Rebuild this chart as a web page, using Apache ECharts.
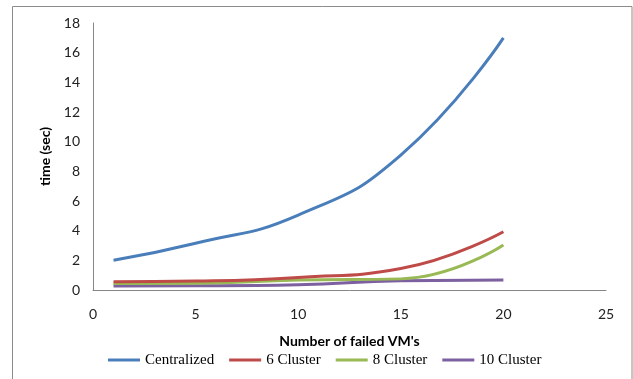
<!DOCTYPE html>
<html>
<head>
<meta charset="utf-8">
<script src="https://cdn.jsdelivr.net/npm/echarts@6/dist/echarts.min.js"></script>
<style>
html,body{margin:0;padding:0;background:#fff;}
#chart{width:633px;height:379px;}
</style>
</head>
<body>
<div id="chart"></div>
<script>
// Data
const xValues = [1, 5, 10, 15, 20];
const centralized = [2.0, 3.15, 5.05, 9.1, 17.0];
const cluster6 = [0.55, 0.6, 0.85, 1.45, 3.93];
const cluster8 = [0.43, 0.45, 0.67, 0.75, 3.03];
const cluster10 = [0.27, 0.28, 0.35, 0.63, 0.67];
const seriesNames = ['Centralized', '6 Cluster', '8 Cluster', '10 Cluster'];
const seriesColors = ['#4A7EBB', '#BE4B48', '#98B954', '#7D60A0'];
const xAxisTitle = "Number of failed VM's";
const yAxisTitle = 'time (sec)';

const allData = [centralized, cluster6, cluster8, cluster10];
const chart = echarts.init(document.getElementById('chart'), null, {renderer: 'canvas'});
const tickFont = {fontFamily: 'Lato', fontSize: 14, color: '#222'};

chart.setOption({
  animation: false,
  backgroundColor: '#fff',
  graphic: [{
    type: 'rect',
    shape: {x: 12.5, y: 6.5, width: 619.5, height: 400},
    style: {fill: 'none', stroke: '#8c8c8c', lineWidth: 1},
    silent: true
  }],
  grid: {left: 93, right: 27, top: 23, bottom: 89},
  legend: {
    data: seriesNames,
    icon: 'rect',
    left: 108,
    top: 352,
    padding: 0,
    itemWidth: 32,
    itemHeight: 3,
    itemGap: 15,
    textStyle: {fontFamily: 'Liberation Serif', fontSize: 15, color: '#000', lineHeight: 16}
  },
  xAxis: {
    type: 'value',
    min: 0, max: 25, interval: 5,
    name: xAxisTitle,
    nameLocation: 'middle',
    nameGap: 44,
    nameTextStyle: {fontFamily: 'Lato', fontSize: 14, fontWeight: 'bold', color: '#000'},
    axisLine: {show: true, lineStyle: {color: '#868686', width: 1}},
    axisTick: {show: false},
    splitLine: {show: false},
    axisLabel: Object.assign({margin: 17}, tickFont)
  },
  yAxis: {
    type: 'value',
    min: 0, max: 18, interval: 2,
    name: yAxisTitle,
    nameLocation: 'middle',
    nameGap: 30,
    nameTextStyle: {fontFamily: 'Lato', fontSize: 14, fontWeight: 'bold', color: '#000'},
    axisLine: {show: true, lineStyle: {color: '#868686', width: 1}},
    axisTick: {show: false},
    splitLine: {show: false},
    axisLabel: Object.assign({margin: 13}, tickFont)
  },
  series: seriesNames.map((name, i) => ({
    name: name,
    type: 'line',
    smooth: 0.5,
    symbol: 'none',
    data: xValues.map((x, j) => [x, allData[i][j]]),
    lineStyle: {color: seriesColors[i], width: 3},
    itemStyle: {color: seriesColors[i]},
    z: 10 - i
  }))
});
</script>
</body>
</html>
